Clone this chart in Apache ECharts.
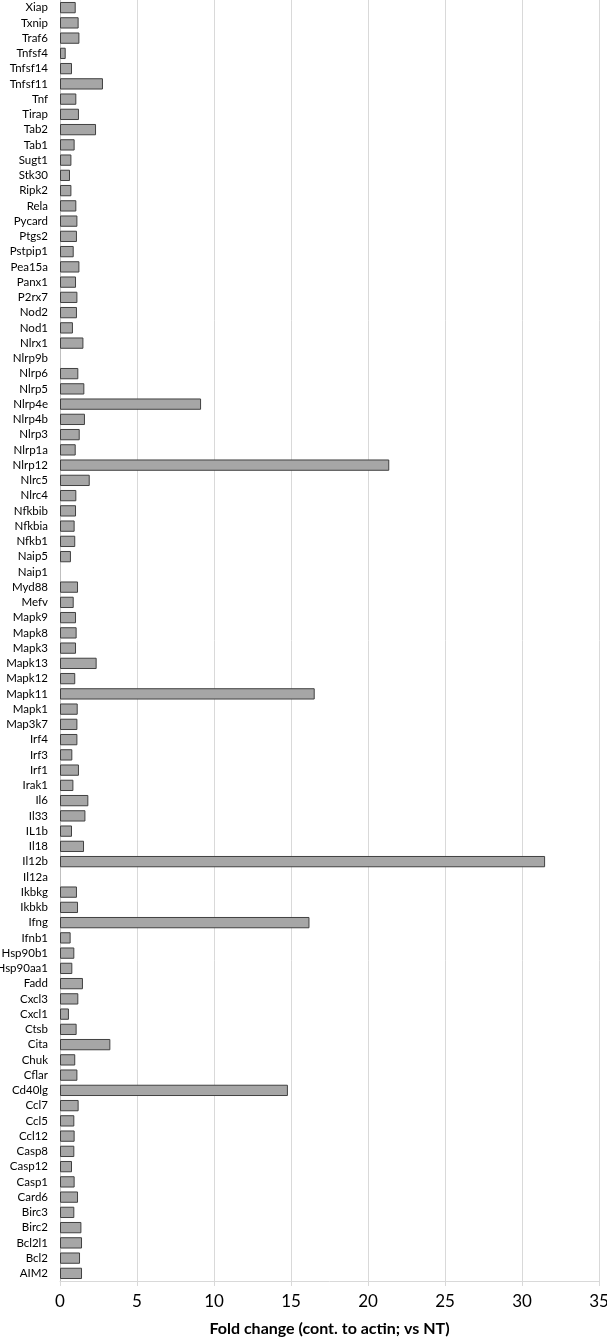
<!DOCTYPE html>
<html><head><meta charset="utf-8">
<script src="https://cdn.jsdelivr.net/npm/echarts@6/dist/echarts.min.js"></script>
<style>html,body{margin:0;padding:0;background:#fff}#c{width:607px;height:1339px}</style>
</head><body><div id="c"></div>
<script>
// categories listed bottom -> top
const genes = ["AIM2","Bcl2","Bcl2l1","Birc2","Birc3","Card6","Casp1","Casp12","Casp8","Ccl12","Ccl5","Ccl7","Cd40lg","Cflar","Chuk","Cita","Ctsb","Cxcl1","Cxcl3","Fadd","Hsp90aa1","Hsp90b1","Ifnb1","Ifng","Ikbkb","Ikbkg","Il12a","Il12b","Il18","IL1b","Il33","Il6","Irak1","Irf1","Irf3","Irf4","Map3k7","Mapk1","Mapk11","Mapk12","Mapk13","Mapk3","Mapk8","Mapk9","Mefv","Myd88","Naip1","Naip5","Nfkb1","Nfkbia","Nfkbib","Nlrc4","Nlrc5","Nlrp12","Nlrp1a","Nlrp3","Nlrp4b","Nlrp4e","Nlrp5","Nlrp6","Nlrp9b","Nlrx1","Nod1","Nod2","P2rx7","Panx1","Pea15a","Pstpip1","Ptgs2","Pycard","Rela","Ripk2","Stk30","Sugt1","Tab1","Tab2","Tirap","Tnf","Tnfsf11","Tnfsf14","Tnfsf4","Traf6","Txnip","Xiap"];
const foldChange = [1.43,1.30,1.43,1.39,0.93,1.17,0.95,0.78,0.93,0.95,0.93,1.21,14.8,1.13,0.99,3.27,1.08,0.58,1.19,1.49,0.80,0.93,0.69,16.2,1.17,1.10,0,31.5,1.56,0.78,1.65,1.84,0.87,1.23,0.80,1.13,1.13,1.15,16.54,0.99,2.38,1.04,1.08,1.04,0.89,1.17,0,0.71,0.99,0.95,1.04,1.06,1.93,21.38,1.02,1.28,1.62,9.16,1.58,1.19,0,1.52,0.84,1.10,1.13,1.04,1.26,0.89,1.10,1.13,1.06,0.74,0.65,0.74,0.95,2.34,1.23,1.06,2.79,0.78,0.37,1.26,1.21,1.02];
const xTicks = [0,5,10,15,20,25,30,35];

const chart = echarts.init(document.getElementById('c'), null, {renderer:'canvas'});
chart.setOption({
  animation:false,
  backgroundColor:'#fff',
  grid:{left:60, right:8, top:0, height:1281, containLabel:false, outerBoundsMode:'none'},
  xAxis:{
    type:'value', min:xTicks[0], max:xTicks[xTicks.length-1], interval:5,
    axisLine:{show:true, lineStyle:{color:'#d9d9d9', width:1}},
    axisTick:{show:true, length:5, lineStyle:{color:'#d9d9d9'}},
    splitLine:{show:true, lineStyle:{color:'#d9d9d9', width:1}},
    axisLabel:{color:'#000', fontSize:17, fontFamily:'Lato', margin:12},
    name:'Fold change (cont. to actin; vs NT)', nameLocation:'middle', nameGap:40,
    nameTextStyle:{color:'#000', fontSize:16, fontWeight:'bold', fontFamily:'Lato'}
  },
  yAxis:{
    type:'category', data:genes,
    axisLine:{show:true, lineStyle:{color:'#bfbfbf', width:1}},
    axisTick:{show:false},
    axisLabel:{color:'#000', fontSize:11.5, fontFamily:'Lato', margin:12, interval:0}
  },
  series:[{
    type:'bar', data:foldChange.map(v => v === 0 ? '-' : v), barCategoryGap:'26%',
    itemStyle:{color:'#a6a6a6', borderColor:'#404040', borderWidth:1}
  }]
});
</script></body></html>
